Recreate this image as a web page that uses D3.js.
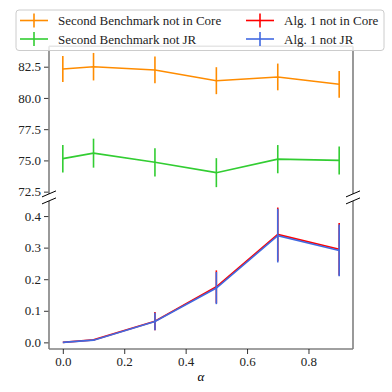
<!DOCTYPE html>
<html>
<head>
<meta charset="utf-8">
<script src="https://cdn.jsdelivr.net/npm/d3@7"></script>
<style>
  body { margin: 0; background: #fff; }
</style>
</head>
<body>
<div id="chart"></div>
<script>
var alphas = [0.0, 0.1, 0.3, 0.5, 0.7, 0.9];

var benchCore = [82.32, 82.5, 82.24, 81.38, 81.68, 81.09];
var benchCoreErr = [1.04, 1.1, 1.07, 1.08, 1.07, 1.07];
var benchJR = [75.14, 75.58, 74.85, 74.02, 75.1, 75.0];
var benchJRErr = [1.1, 1.16, 1.13, 1.16, 1.13, 1.12];

var algCore = [0.0, 0.008, 0.067, 0.176, 0.342, 0.295];
var algCoreErr = [0.0, 0.002, 0.029, 0.052, 0.085, 0.083];
var algJR = [0.0, 0.007, 0.066, 0.172, 0.338, 0.291];
var algJRErr = [0.0, 0.002, 0.028, 0.051, 0.085, 0.082];

var topTicks = [72.5, 75.0, 77.5, 80.0, 82.5];
var bottomTicks = [0.0, 0.1, 0.2, 0.3, 0.4];
var xTicks = [0.0, 0.2, 0.4, 0.6, 0.8];

var labels = ["Second Benchmark not in Core", "Second Benchmark not JR",
              "Alg. 1 not in Core", "Alg. 1 not JR"];
var color = ["#ff8c00", "#32cd32", "#ff0000", "#4169e1"];

var W = 392, H = 392;
var left = 49, right = 353;
var spineColor = "#808080";
var serif = "Liberation Serif";
var fs = "13px";

var svg = d3.select("#chart").append("svg")
  .attr("width", W)
  .attr("height", H);

var x = d3.scaleLinear().domain([-0.045, 0.945]).range([left, right]);
var yTop = d3.scaleLinear().domain([72.32, 84.14]).range([193.9, 46.2]);
var yBot = d3.scaleLinear().domain([-0.021, 0.448]).range([349, 200.9]);

function drawPanel(y, ticks, showTop, showBottom) {
  var r = y.range();
  var g = svg.append("g");
  var ay = g.append("g")
    .attr("transform", "translate(" + left + ",0)")
    .call(d3.axisLeft(y).tickValues(ticks).tickFormat(d3.format(".1f")).tickSize(5).tickPadding(3));
  ay.select(".domain").remove();
  ay.selectAll("line").attr("stroke", "#000").attr("stroke-width", 0.8);
  ay.selectAll("text").style("font-size", fs).style("font-family", serif).attr("fill", "#222");

  g.append("line").attr("x1", left).attr("x2", left).attr("y1", r[0]).attr("y2", r[1])
    .attr("stroke", spineColor).attr("stroke-width", 1.6);
  g.append("line").attr("x1", right).attr("x2", right).attr("y1", r[0]).attr("y2", r[1])
    .attr("stroke", spineColor).attr("stroke-width", 1.6);
  if (showTop) {
    g.append("line").attr("x1", left).attr("x2", right).attr("y1", r[1]).attr("y2", r[1])
      .attr("stroke", spineColor).attr("stroke-width", 1.6);
  }
  if (showBottom) {
    g.append("line").attr("x1", left).attr("x2", right).attr("y1", r[0]).attr("y2", r[0])
      .attr("stroke", spineColor).attr("stroke-width", 1.6);
  }
  return g;
}

function drawSeries(g, y, vals, errs, c) {
  var line = d3.line()
    .x(function(d, i) { return x(alphas[i]); })
    .y(function(d) { return y(d); });
  g.append("path")
    .datum(vals)
    .attr("d", line)
    .attr("fill", "none")
    .attr("stroke", c)
    .attr("stroke-width", 1.6);
  g.selectAll(null).data(vals)
    .enter()
    .append("line")
    .attr("x1", function(d, i) { return x(alphas[i]); })
    .attr("x2", function(d, i) { return x(alphas[i]); })
    .attr("y1", function(d, i) { return y(d - errs[i]); })
    .attr("y2", function(d, i) { return y(d + errs[i]); })
    .attr("stroke", c)
    .attr("stroke-width", 1.6);
}

var gTop = drawPanel(yTop, topTicks, true, false);
var gBot = drawPanel(yBot, bottomTicks, false, true);

drawSeries(gTop, yTop, benchCore, benchCoreErr, color[0]);
drawSeries(gTop, yTop, benchJR, benchJRErr, color[1]);
drawSeries(gBot, yBot, algCore, algCoreErr, color[2]);
drawSeries(gBot, yBot, algJR, algJRErr, color[3]);

// x axis
var ax = svg.append("g")
  .attr("transform", "translate(0," + yBot.range()[0] + ")")
  .call(d3.axisBottom(x).tickValues(xTicks).tickFormat(d3.format(".1f")).tickSize(5).tickPadding(3));
ax.select(".domain").remove();
ax.selectAll("line").attr("stroke", "#000").attr("stroke-width", 0.8);
ax.selectAll("text").style("font-size", fs).style("font-family", serif).attr("fill", "#222");

svg.append("text")
  .attr("x", (left + right) / 2)
  .attr("y", 381)
  .attr("text-anchor", "middle")
  .style("font-size", "13px")
  .style("font-style", "italic")
  .style("font-family", serif)
  .text("\u03b1");

// break marks
[left, right].forEach(function(px) {
  [yTop.range()[0], yBot.range()[1]].forEach(function(py) {
    svg.append("line")
      .attr("x1", px - 7).attr("y1", py + 3)
      .attr("x2", px + 7).attr("y2", py - 3)
      .attr("stroke", "#000")
      .attr("stroke-width", 1);
  });
});

// legend
var legend = svg.append("g").attr("class", "legend");
legend.append("rect")
  .attr("x", 16).attr("y", 10)
  .attr("width", 368).attr("height", 40.5)
  .attr("rx", 3)
  .attr("fill", "#fff")
  .attr("fill-opacity", 0.8)
  .attr("stroke", "#cccccc")
  .attr("stroke-width", 1);

labels.forEach(function(lbl, i) {
  var col = Math.floor(i / 2), row = i % 2;
  var hx = col === 0 ? 20 : 246;
  var cy = 20.5 + row * 18.5;
  var g = legend.append("g");
  g.append("line")
    .attr("x1", hx).attr("x2", hx + 28)
    .attr("y1", cy).attr("y2", cy)
    .attr("stroke", color[i]).attr("stroke-width", 1.6);
  g.append("line")
    .attr("x1", hx + 14).attr("x2", hx + 14)
    .attr("y1", cy - 7).attr("y2", cy + 7)
    .attr("stroke", color[i]).attr("stroke-width", 1.6);
  g.append("text")
    .attr("x", hx + 38)
    .attr("y", cy)
    .attr("dy", "0.35em")
    .style("font-size", fs)
    .style("font-family", serif)
    .style("fill", "#222")
    .text(lbl);
});
</script>
</body>
</html>
